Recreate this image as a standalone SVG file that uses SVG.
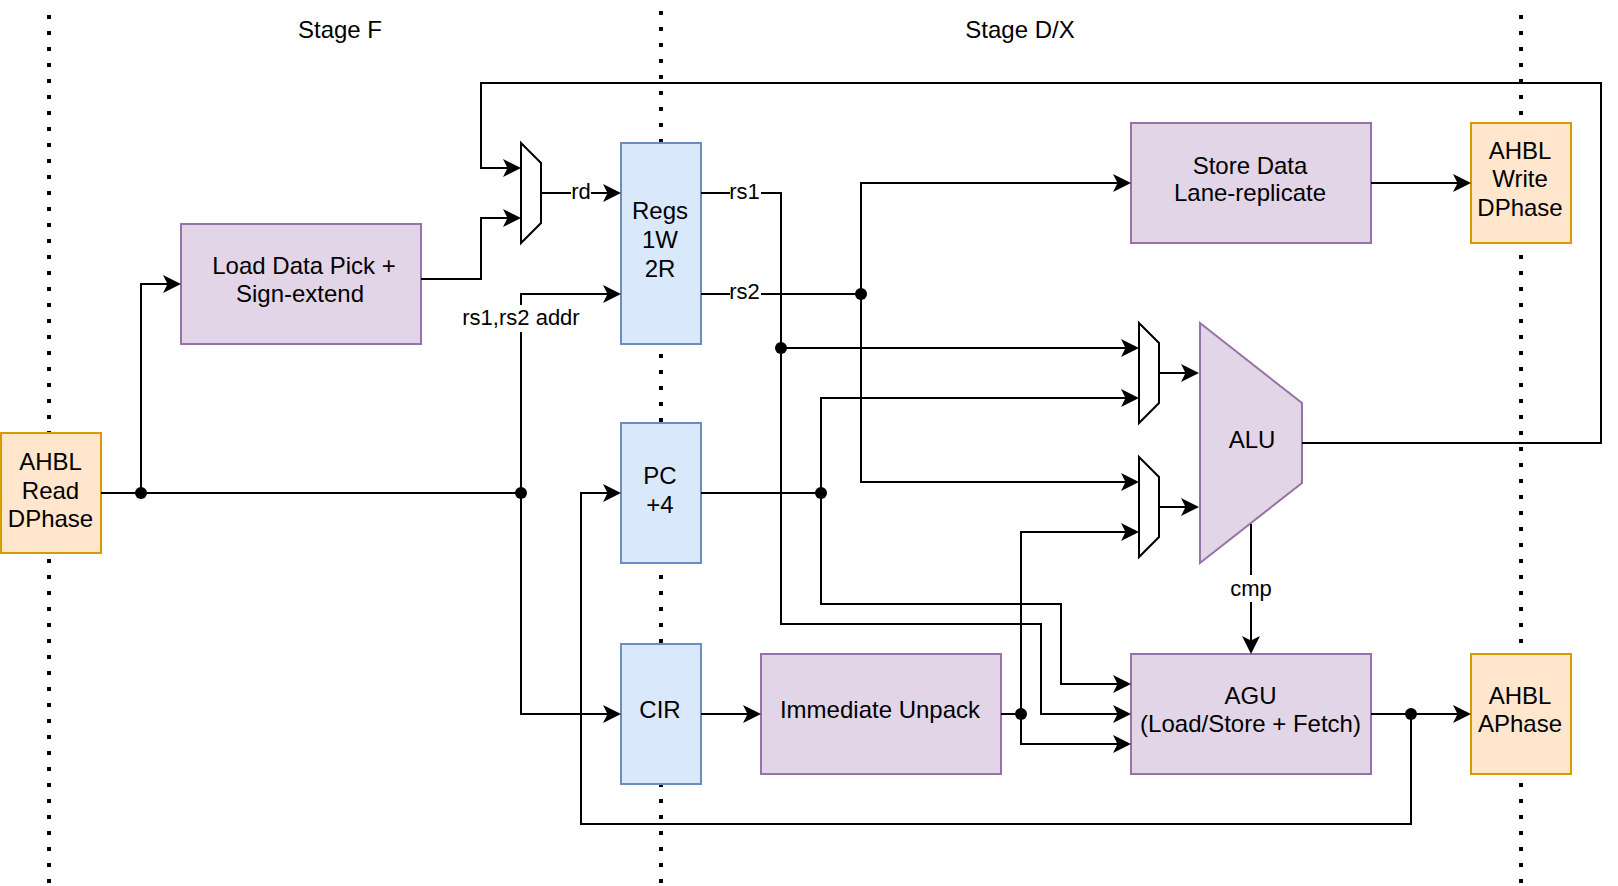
<svg xmlns="http://www.w3.org/2000/svg" width="1618" height="886" viewBox="0 0 1618 886">
<style>
text{font-family:"Liberation Sans",Arial,sans-serif;font-size:24px;fill:#000;text-anchor:middle}
text.e{font-size:22px}
.p{fill:#e1d5e7;stroke:#9673a6;stroke-width:2}
.b{fill:#dae8fc;stroke:#6c8ebf;stroke-width:2}
.o{fill:#ffe6cc;stroke:#d79b00;stroke-width:2}
.m{fill:#fff;stroke:#000;stroke-width:2}
.w{fill:none;stroke:#000;stroke-width:2}
.a{marker-end:url(#arrow)}
.d{fill:none;stroke:#000;stroke-width:4;stroke-dasharray:4 12}
.j{fill:#000}
.l{fill:#fff}
</style>
<defs>
<marker id="arrow" markerUnits="userSpaceOnUse" markerWidth="18" markerHeight="18" refX="10" refY="9" orient="auto" overflow="visible"><path d="M0 0L18 9L0 18L4.5 9Z" fill="#000"/></marker>
</defs>
<rect width="1618" height="886" fill="#fff"/>
<g id="stage-lines">
<path class="d" d="M49 15V884"/>
<path class="d" d="M1521 15V884"/>
<path class="d" d="M661 11V143"/>
<path class="d" d="M661 354V423"/>
<path class="d" d="M661 575V643"/>
<path class="d" d="M661 783V884"/>
</g>
<g id="stage-labels">
<text x="340" y="38">Stage F</text>
<text x="1020" y="38">Stage D/X</text>
</g>
<g id="ahbl-read"><rect class="o" x="1" y="433" width="100" height="120"/><text x="50.500" y="470">AHBL</text><text x="50.500" y="499">Read</text><text x="50.500" y="527">DPhase</text></g>
<g id="load-pick"><rect class="p" x="181" y="224" width="240" height="120"/><text x="304" y="274">Load Data Pick +</text><text x="300" y="302">Sign-extend</text></g>
<g id="rd-mux"><path class="m" d="M521 143L541 163V223L521 243Z"/></g>
<g id="regs"><rect class="b" x="621" y="143" width="80" height="201"/><text x="660" y="219">Regs</text><text x="660" y="248">1W</text><text x="660" y="277">2R</text></g>
<g id="pc"><rect class="b" x="621" y="423" width="80" height="140"/><text x="660" y="484">PC</text><text x="660" y="513">+4</text></g>
<g id="cir"><rect class="b" x="621" y="644" width="80" height="140"/><text x="660" y="718">CIR</text></g>
<g id="imm"><rect class="p" x="761" y="654" width="240" height="120"/><text x="880" y="718">Immediate Unpack</text></g>
<g id="store"><rect class="p" x="1131" y="123" width="240" height="120"/><text x="1250" y="174">Store Data</text><text x="1250" y="201">Lane-replicate</text></g>
<g id="ahbl-write"><rect class="o" x="1471" y="123" width="100" height="120"/><text x="1520" y="159">AHBL</text><text x="1520" y="187">Write</text><text x="1520" y="216">DPhase</text></g>
<g id="mux-a"><path class="m" d="M1139 323L1159 343V403L1139 423Z"/></g>
<g id="mux-b"><path class="m" d="M1139 457L1159 477V537L1139 557Z"/></g>
<g id="alu"><path class="p" d="M1200 323L1302 403V483L1200 563Z"/><text x="1252" y="448">ALU</text></g>
<g id="agu"><rect class="p" x="1131" y="654" width="240" height="120"/><text x="1250.500" y="704">AGU</text><text x="1250.500" y="732">(Load/Store + Fetch)</text></g>
<g id="ahbl-aphase"><rect class="o" x="1471" y="654" width="100" height="120"/><text x="1520" y="704">AHBL</text><text x="1520" y="732">APhase</text></g>
<g id="connectors">
<path class="w" d="M101 493H521"/>
<path class="w a" d="M141 493V284H173"/>
<path class="w a" d="M521 493V294H613"/>
<path class="w a" d="M521 493V714H613"/>
<path class="w" d="M701 493H821"/>
<path class="w a" d="M821 493V398H1131"/>
<path class="w a" d="M821 493V604H1061V684H1123"/>
<path class="w a" d="M701 193H781V624H1041V714H1123"/>
<path class="w a" d="M781 348H1131"/>
<path class="w" d="M701 294H861"/>
<path class="w a" d="M861 294V183H1123"/>
<path class="w a" d="M861 294V482H1131"/>
<path class="w a" d="M1371 183H1463"/>
<path class="w a" d="M1302 443H1601V83H481V168H513"/>
<path class="w a" d="M421 279H481V218H513"/>
<path class="w a" d="M541 193H613"/>
<path class="w a" d="M1159 373H1191"/>
<path class="w a" d="M1159 507H1191"/>
<path class="w" d="M1001 714H1021"/>
<path class="w a" d="M1021 714V532H1131"/>
<path class="w a" d="M1021 714V744H1123"/>
<path class="w a" d="M701 714H753"/>
<path class="w a" d="M1371 714H1463"/>
<path class="w a" d="M1411 714V824H581V493H613"/>
<path class="w a" d="M1251 524V646"/>
<circle class="j" cx="141" cy="493" r="6"/>
<circle class="j" cx="521" cy="493" r="6"/>
<circle class="j" cx="821" cy="493" r="6"/>
<circle class="j" cx="781" cy="348" r="6"/>
<circle class="j" cx="861" cy="294" r="6"/>
<circle class="j" cx="1021" cy="714" r="6"/>
<circle class="j" cx="1411" cy="714" r="6"/>
<rect class="l" x="571" y="180" width="20" height="26"/><text class="e" x="581" y="199">rd</text>
<rect class="l" x="730" y="180" width="31" height="26"/><text class="e" x="744.500" y="199">rs1</text>
<rect class="l" x="730" y="281" width="31" height="26"/><text class="e" x="744.500" y="299">rs2</text>
<rect class="l" x="463" y="305" width="116" height="27"/><text class="e" x="521" y="325">rs1,rs2 addr</text>
<rect class="l" x="1231" y="575" width="40" height="27"/><text class="e" x="1251" y="596">cmp</text>
</g>
</svg>
